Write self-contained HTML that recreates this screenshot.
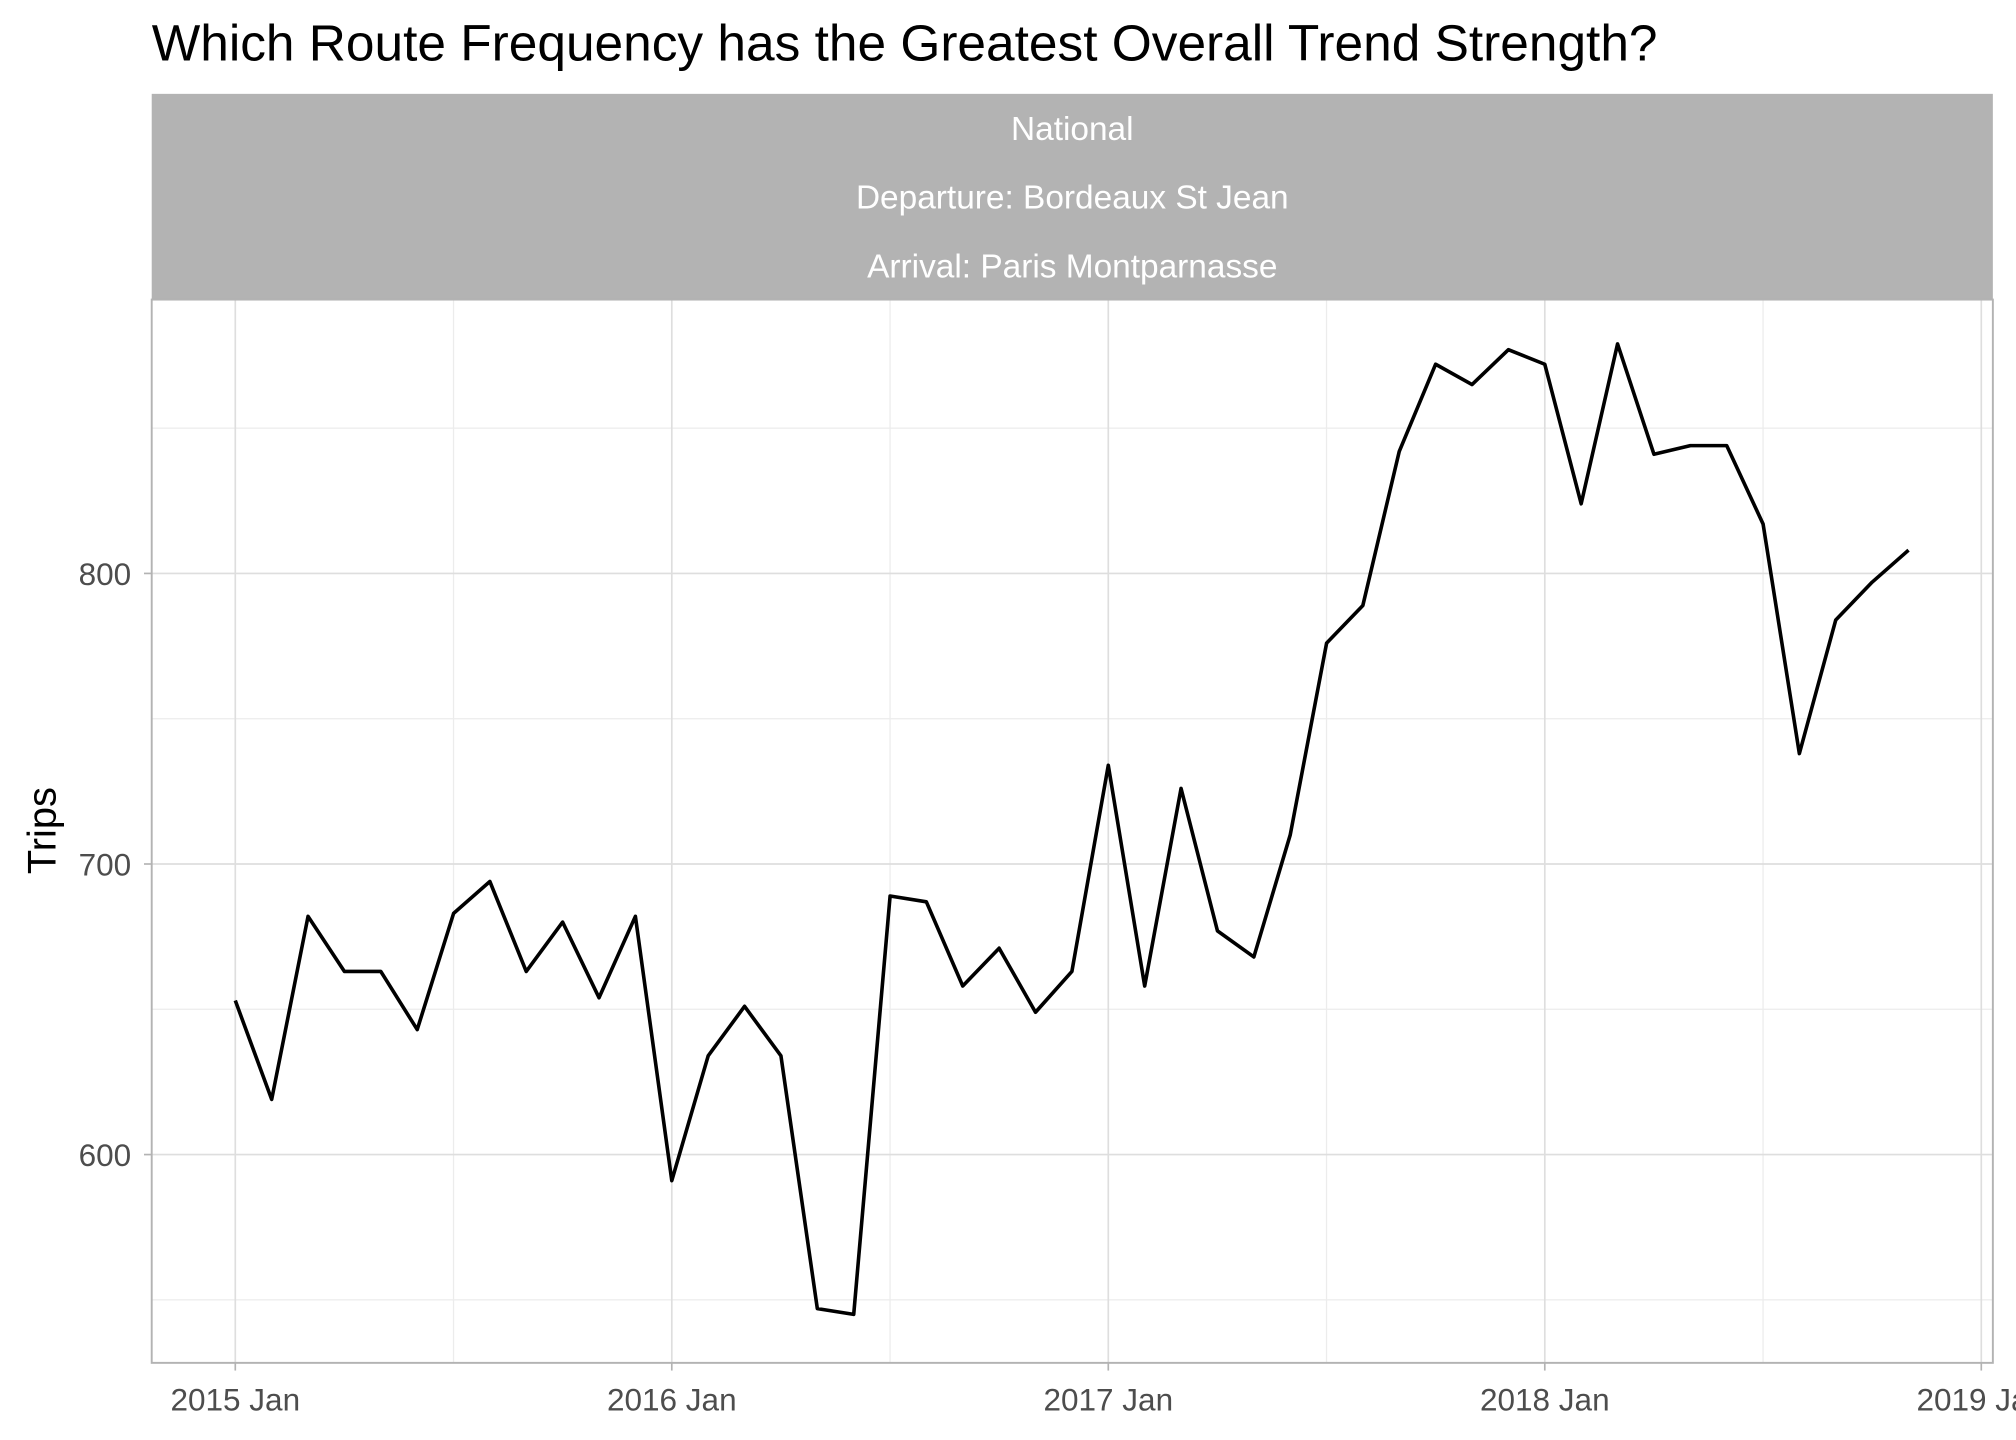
<!DOCTYPE html>
<html><head><meta charset="utf-8"><style>
html,body{margin:0;padding:0;background:#fff;}
svg{display:block;font-family:"Liberation Sans",Arial,sans-serif;}
</style></head><body>
<svg id="chart" width="2016" height="1440" viewBox="0 0 1568 1120" xmlns="http://www.w3.org/2000/svg">
<text x="118" y="47" font-size="40" fill="#000">Which Route Frequency has the Greatest Overall Trend Strength?</text>
<rect x="118" y="73" width="1432" height="160" fill="#b3b3b3"/>
<text x="834" y="109" font-size="26" fill="#fff" text-anchor="middle">National</text>
<text x="834" y="162" font-size="26" fill="#fff" text-anchor="middle">Departure: Bordeaux St Jean</text>
<text x="834" y="216" font-size="26" fill="#fff" text-anchor="middle">Arrival: Paris Montparnasse</text>
<g id="grid"></g>
<rect x="118" y="233" width="1432" height="827" fill="none" stroke="#b3b3b3" stroke-width="1.5"/>
<g id="axes"></g>
<path id="line" fill="none" stroke="#000" stroke-width="2.8" stroke-linejoin="round"/>
<text transform="translate(43,646) rotate(-90)" font-size="31" fill="#000" text-anchor="middle">Trips</text>
</svg>
<script>
const startYear = 2015;
const values = [653,619,682,663,663,643,683,694,663,680,654,682,
591,634,651,634,547,545,689,687,658,671,649,663,
734,658,726,677,668,710,776,789,842,872,865,877,
872,824,879,841,844,844,817,738,784,797,808];
const yTicks = [600,700,800];
const yMinor = [550,650,750,850];
const xTickLabels = ["2015 Jan","2016 Jan","2017 Jan","2018 Jan","2019 Jan"];

const NS="http://www.w3.org/2000/svg";
function xm(m){return 183 + m*(1541-183)/48;}
function y(v){return 446 - (v-800)*2.26;}
const grid=document.getElementById('grid'), axes=document.getElementById('axes');
function ln(p,x1,y1,x2,y2,c,w,n){const l=document.createElementNS(NS,'line');
l.setAttribute('x1',x1);l.setAttribute('y1',y1);l.setAttribute('x2',x2);l.setAttribute('y2',y2);
l.setAttribute('stroke',c);l.setAttribute('stroke-width',w);


p.appendChild(l);}
function tx(p,x0,y0,s,anchor,n){const t=document.createElementNS(NS,'text');
t.setAttribute('x',x0);t.setAttribute('y',y0);t.setAttribute('font-size','24.5');t.setAttribute('fill','#4d4d4d');t.setAttribute('text-anchor',anchor);t.textContent=s;


p.appendChild(t);}
yMinor.forEach(v=>ln(grid,118,y(v),1550,y(v),'#ececec',1,'y-minor-grid'));
for(let i=0;i<4;i++){const xx=xm(i*12+6);ln(grid,xx,233,xx,1060,'#ececec',1,'x-minor-grid');}
yTicks.forEach(v=>{ln(grid,118,y(v),1550,y(v),'#dedede',1.3,'y-major-grid');
ln(axes,112,y(v),118,y(v),'#b3b3b3',1.3,'y-tick');
tx(axes,102,y(v)+9,String(v),'end','y-tick-label');});
xTickLabels.forEach((s,i)=>{const xx=xm(i*12);ln(grid,xx,233,xx,1060,'#dedede',1.3,'x-major-grid');
ln(axes,xx,1060,xx,1066,'#b3b3b3',1.3,'x-tick');
tx(axes,xx,1097,s,'middle','x-tick-label');});
document.getElementById('line').setAttribute('d',values.map((v,i)=>(i?'L':'M')+xm(i).toFixed(1)+','+y(v).toFixed(1)).join(''));
</script>
</body></html>
